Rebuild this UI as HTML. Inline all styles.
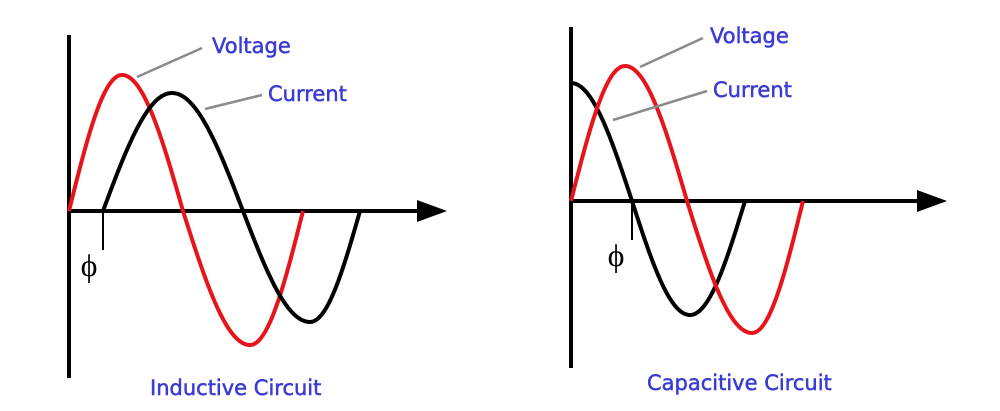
<!DOCTYPE html>
<html><head><meta charset="utf-8"><style>
html,body{margin:0;padding:0;background:#fff;}
svg{display:block}
text{font-family:"DejaVu Sans","Liberation Sans",sans-serif;fill:#3a3ad4;stroke:#3a3ad4;stroke-width:0.5;}
</style></head><body>
<svg id="s" width="1000" height="411" viewBox="0 0 1000 411" xmlns="http://www.w3.org/2000/svg">
<g stroke="#000" stroke-width="4" fill="none">
<line x1="69" y1="35" x2="69" y2="378"/>
<line x1="67" y1="211" x2="420" y2="211"/>
<line x1="571" y1="27" x2="571" y2="368"/>
<line x1="569" y1="201" x2="920" y2="201"/>
</g>
<polygon points="417,200 447,211 417,222" fill="#000"/>
<polygon points="917,190 947,201 917,212" fill="#000"/>
<path id="lr" stroke="#e8141c" stroke-width="4" fill="none"/>
<path id="lb" stroke="#000" stroke-width="4" fill="none"/>
<path id="rb" stroke="#000" stroke-width="4" fill="none"/>
<path id="rr" stroke="#e8141c" stroke-width="4" fill="none"/>
<g stroke="#000" stroke-width="2">
<line x1="103" y1="211" x2="103" y2="250"/>
<line x1="632" y1="201" x2="632" y2="240"/>
</g>
<g stroke="#8a8a8a" stroke-width="2.5">
<line x1="137" y1="77" x2="202" y2="48"/>
<line x1="205" y1="109" x2="262" y2="95"/>
<line x1="640" y1="67" x2="703" y2="38"/>
<line x1="613" y1="120" x2="707" y2="91"/>
</g>
<text x="89" y="276" font-size="32" text-anchor="middle" style="fill:#000;stroke:none;font-family:'Liberation Serif',serif">ϕ</text>
<text x="616" y="266" font-size="32" text-anchor="middle" style="fill:#000;stroke:none;font-family:'Liberation Serif',serif">ϕ</text>
<text x="212" y="53" font-size="21">Voltage</text>
<text x="268" y="101" font-size="21">Current</text>
<text x="150" y="395" font-size="21">Inductive Circuit</text>
<text x="710" y="43" font-size="21">Voltage</text>
<text x="713" y="97" font-size="21">Current</text>
<text x="647" y="390" font-size="21">Capacitive Circuit</text>
</svg>
<script>
function w(id,x0,y0,A,B,q,start){var d="",x=x0;for(var i=0;i<q.length;i++){var k=start+i;for(var t=0;t<=q[i];t+=1){var ang=(k+t/q[i])*Math.PI/2;var s=Math.sin(ang);var y=y0-(s>0?A:B)*s;d+=(d?"L":"M")+(x+t).toFixed(1)+","+y.toFixed(1);}x+=q[i];}document.getElementById(id).setAttribute("d",d);}
w("lr",69,211,136,134,[53,61,67,53],0);
w("lb",103,211,118,111,[69,71,67,50],0);
w("rr",571,201,135,132,[54,62,65,51],0);
w("rb",571,201,118,114,[61,58,55],1);
</script>
</body></html>
